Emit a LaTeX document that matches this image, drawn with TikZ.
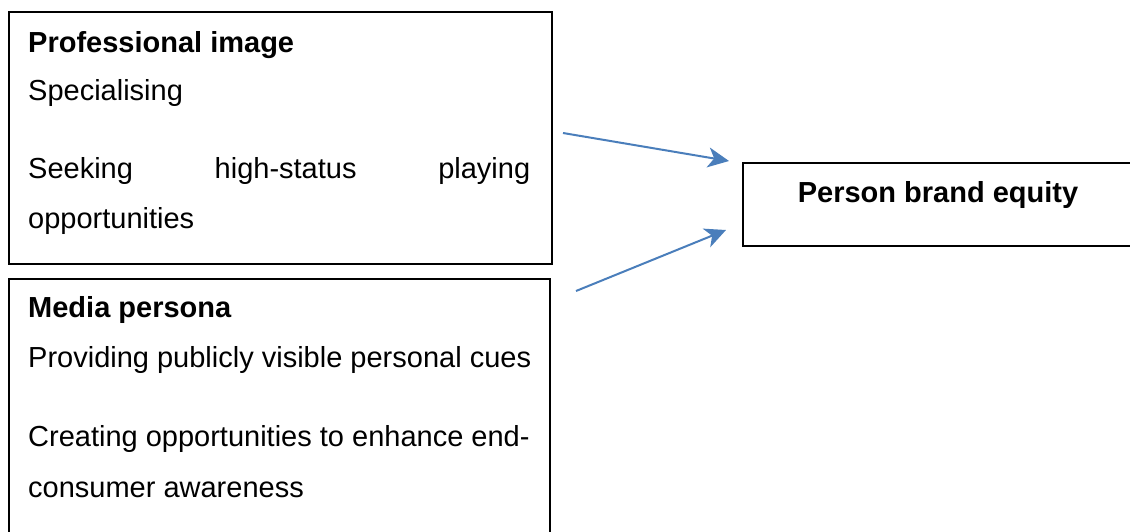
\documentclass[tikz,border=0pt]{standalone}
\usepackage{fontspec}
\setmainfont{Liberation Sans}
\usetikzlibrary{arrows.meta}
\definecolor{arrowblue}{HTML}{4A7EBB}
\begin{document}
\begin{tikzpicture}[x=1pt,y=-1pt,
  box/.style={draw=black,line width=1.6pt,rectangle,inner sep=0pt,anchor=north west},
  txt/.style={anchor=base west,inner sep=0pt,font=\fontsize{29}{50}\selectfont},
  btxt/.style={txt,font=\fontsize{29}{50}\selectfont\bfseries},
  link/.style={draw=arrowblue,line width=2pt,-{Stealth[length=21pt,width=20pt,inset=6pt]}}]
\useasboundingbox (0,0) rectangle (1130,531);
\clip (0,0) rectangle (1130,531);
\node[box,minimum width=543pt,minimum height=252pt] (b1) at (8,11) {};
\node[box,minimum width=541pt,minimum height=280pt] (b2) at (8,278) {};
\node[box,minimum width=420pt,minimum height=83pt] (b3) at (742,162) {};
\node[btxt] (t1) at (28,52) {Professional image};
\node[txt] (t2) at (28,100) {Specialising};
\node[txt,text width=502pt] (t3) at (28,178) {Seeking\hfill high-status\hfill playing};
\node[txt] (t4) at (28,228) {opportunities};
\node[btxt] (t5) at (28,317) {Media persona};
\node[txt] (t6) at (28,367) {Providing publicly visible personal cues};
\node[txt] (t7) at (28,446) {Creating opportunities to enhance end-};
\node[txt] (t8) at (28,497) {consumer awareness};
\node[btxt,anchor=base] (t9) at (938,202) {Person brand equity};
\coordinate (a1s) at (563,133);
\coordinate (a1e) at (729,161);
\coordinate (a2s) at (576,291);
\coordinate (a2e) at (726,230);
\draw[link] (a1s) -- (a1e);
\draw[link] (a2s) -- (a2e);
\end{tikzpicture}
\end{document}
